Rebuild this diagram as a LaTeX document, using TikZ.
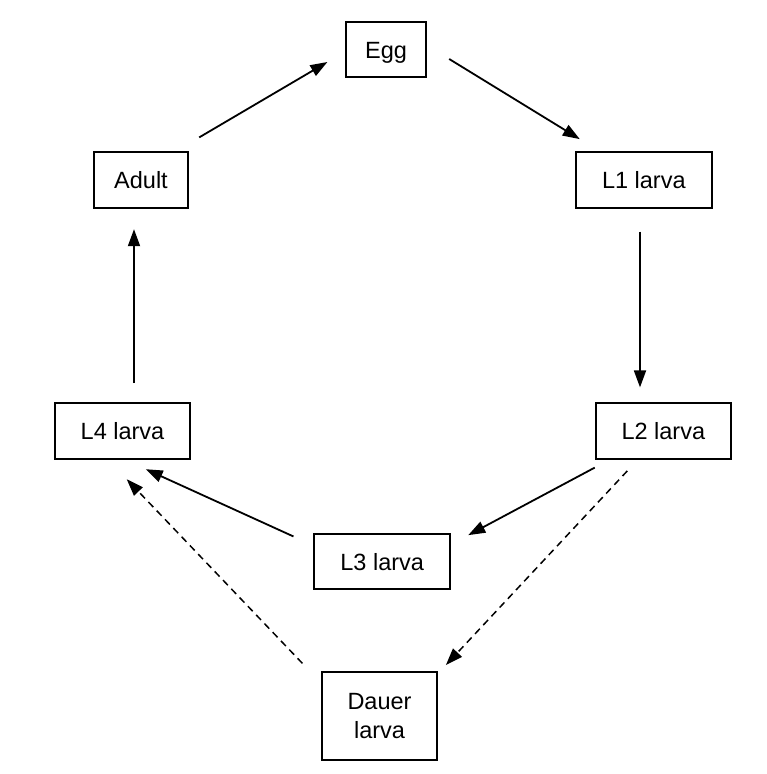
\documentclass[tikz,border=0pt]{standalone}
\usepackage{fontspec}
\setmainfont{Liberation Sans}
\usepackage{tikz}
\usetikzlibrary{arrows.meta}

\begin{document}
\begin{tikzpicture}[x=1pt,y=-1pt,
  stage/.style n args={2}{draw,line width=1.8pt,inner sep=0pt,minimum width=#1pt,minimum height=#2pt,
    font=\fontsize{23.5}{29}\selectfont,text height=16.8pt,text depth=0pt},
  arr/.style={line width=1.8pt,-{Triangle[length=17pt,width=12pt]}},
  dauerarr/.style={arr,line width=1.5pt,dash pattern=on 7pt off 5pt}]
\useasboundingbox (0,0) rectangle (766,774);
% life cycle stages
\node[stage={80}{55}](egg) at (386,49.8) {Egg};
\node[stage={135.7}{55.4}](l1) at (643.8,180) {L1 larva};
\node[stage={135.3}{56}](l2) at (663.3,430.7) {L2 larva};
\node[stage={135.7}{54.7}](l3) at (382.2,561.7) {L3 larva};
\node[stage={135}{56}](l4) at (122.5,430.7) {L4 larva};
\node[stage={93.4}{55.4}](adult) at (141,180) {Adult};
\node[draw,line width=1.8pt,inner sep=0pt,minimum width=114.4pt,minimum height=88.3pt,
  font=\fontsize{23.5}{29}\selectfont,align=center](dauer) at (379.5,715.8) {Dauer\\larva};
% normal development
\draw[arr] ([shift={(10.6,-14)}]adult.north east) -- ([shift={(-17.7,12.2)}]egg.west);
\draw[arr] ([shift={(22.3,9.2)}]egg.east) -- ([shift={(4.7,-12.3)}]l1.north west);
\draw[arr] ([shift={(-3.8,23)}]l1.south) -- ([shift={(-23.3,-14.4)}]l2.north);
\draw[arr] ([shift={(0,8)}]l2.south west) -- ([shift={(17.3,1.7)}]l3.north east);
\draw[arr] ([shift={(-20,3)}]l3.north west) -- ([shift={(23.2,9.6)}]l4.south);
\draw[arr] ([shift={(11.5,-18.7)}]l4.north) -- ([shift={(-7,20.6)}]adult.south);
% dauer pathway
\draw[dauerarr] ([shift={(-36,11.3)}]l2.south) -- ([shift={(8.3,-5.7)}]dauer.north east);
\draw[dauerarr] ([shift={(-19,-7.4)}]dauer.north west) -- ([shift={(4.2,19.6)}]l4.south);
\end{tikzpicture}
\end{document}
